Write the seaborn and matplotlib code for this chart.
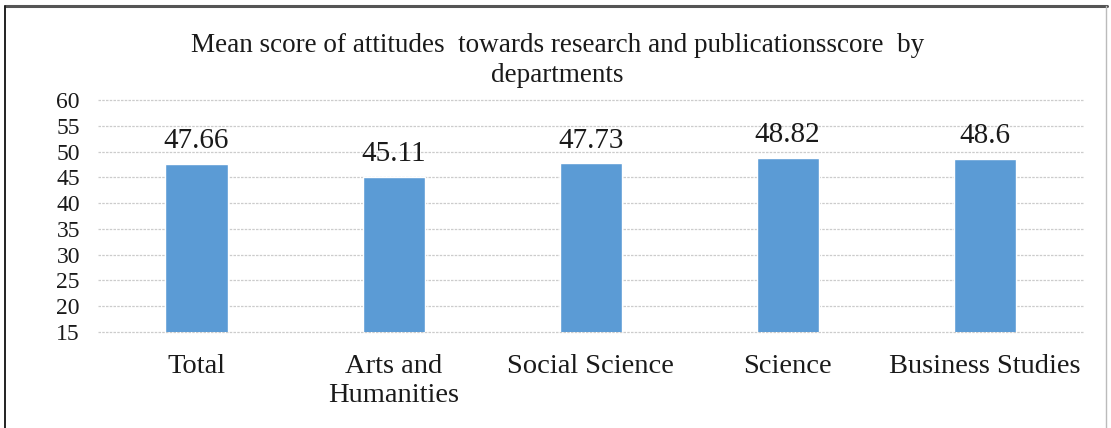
"""
Mean attitude score towards research and publications, by department.
"""

import matplotlib.pyplot as plt
import pandas as pd
import seaborn as sns
from matplotlib.lines import Line2D

departments = ["Total", "Arts and\nHumanities", "Social Science", "Science", "Business Studies"]
mean_scores = [47.66, 45.11, 47.73, 48.82, 48.6]
score_labels = ["47.66", "45.11", "47.73", "48.82", "48.6"]
y_ticks = [15, 20, 25, 30, 35, 40, 45, 50, 55, 60]

TITLE = "Mean score of attitudes  towards research and publicationsscore  by\ndepartments"
BAR_COLOR = "#5B9BD5"


def main():
    sns.set_style("white")
    plt.rcParams["font.family"] = ["Liberation Serif", "DejaVu Serif"]

    df = pd.DataFrame({"department": departments, "score": mean_scores})

    fig = plt.figure(figsize=(11.11, 4.28), dpi=100)
    ax = fig.add_axes([0.0882, 0.2243, 0.8868, 0.5421])

    sns.barplot(data=df, x="department", y="score", color=BAR_COLOR,
                width=0.315, saturation=1, ax=ax, zorder=3)

    ax.set_ylim(15, 60)
    ax.set_yticks(y_ticks)
    ax.set_xlim(-0.5, len(departments) - 0.5)
    ax.yaxis.grid(True, color="#cccccc", linestyle=(0, (2, 1)), linewidth=0.9, zorder=0)
    for gl in ax.get_ygridlines():
        gl.set_clip_on(False)
    ax.xaxis.grid(False)
    for spine in ax.spines.values():
        spine.set_visible(False)

    ax.set_xlabel("")
    ax.set_ylabel("")
    ax.tick_params(axis="y", length=0, pad=13, labelsize=17, labelcolor="#1a1a1a")
    ax.tick_params(axis="x", length=0, pad=16, labelsize=20.5, labelcolor="#1a1a1a")

    for container in ax.containers:
        ax.bar_label(container, labels=score_labels, padding=7, fontsize=21, color="#1a1a1a")

    fig.text(0.502, 0.922, TITLE, ha="center", va="top", fontsize=19.5,
             color="#1a1a1a", linespacing=1.25)

    # frame around the chart, as in the exported document
    fig.add_artist(Line2D([0.0045, 0.996], [0.986, 0.986], color="#555555", linewidth=2.2))
    fig.add_artist(Line2D([0.0045, 0.0045], [0.0, 0.986], color="#222222", linewidth=1.4))
    fig.add_artist(Line2D([0.9955, 0.9955], [0.0, 0.986], color="#bbbbbb", linewidth=1.0))

    fig.savefig("out.png", dpi=100)
    plt.close(fig)


if __name__ == "__main__":
    main()
